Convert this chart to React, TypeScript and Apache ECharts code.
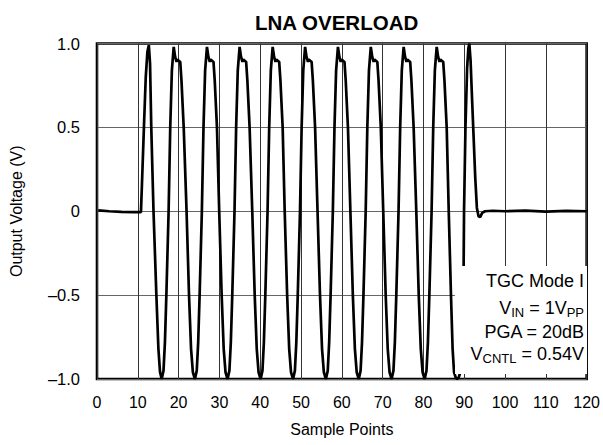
import React, { useEffect, useRef } from "react";
import * as echarts from "echarts";

const chartTitle = "LNA OVERLOAD";
const xAxisName = "Sample Points";
const yAxisName = "Output Voltage (V)";
const xTicks = [0, 10, 20, 30, 40, 50, 60, 70, 80, 90, 100, 110, 120];
const yTickLabels: Record<string, string> = {
  "1": "1.0",
  "0.5": "0.5",
  "0": "0",
  "-0.5": "\u20130.5",
  "-1": "\u20131.0",
};

// flat part before the burst
const leadIn: [number, number][] = [
  [0.3, 0.005], [3, 0.0], [6, -0.004], [9, -0.005], [10.77, -0.005],
];

// first cycle
const firstCycle: [number, number][] = [
  [11.0, 0.15], [11.5, 0.5], [11.95, 0.8], [12.35, 0.95], [12.7, 0.99],
  [13.0, 0.88], [13.3, 0.5], [13.85, 0.0], [14.55, -0.5], [15.05, -0.82],
  [15.45, -0.96], [15.85, -1.0],
];

// clipped burst cycles
const burst: [number, number][] = [
  [16.3, -0.95], [16.65, -0.78], [17.0, -0.5], [17.55, 0], [17.95, 0.5], [18.35, 0.84], [18.8, 0.98],
  [19.15, 0.92], [19.5, 0.89], [19.7, 0.905], [20.4, 0.89], [20.7, 0.78], [21.25, 0.5],
  [21.95, 0], [22.55, -0.5], [23.05, -0.82], [23.5, -0.96], [24.0, -1.0],

  [24.45, -0.95], [24.8, -0.78], [25.15, -0.5], [25.7, 0], [26.1, 0.5], [26.5, 0.84], [26.95, 0.98],
  [27.3, 0.92], [27.65, 0.89], [27.85, 0.905], [28.55, 0.89], [28.85, 0.78], [29.4, 0.5],
  [29.95, 0], [30.55, -0.5], [31.05, -0.82], [31.5, -0.96], [32.0, -1.0],

  [32.45, -0.95], [32.8, -0.78], [33.15, -0.5], [33.7, 0], [34.1, 0.5], [34.5, 0.84], [34.95, 0.98],
  [35.3, 0.92], [35.65, 0.89], [35.85, 0.905], [36.55, 0.89], [36.85, 0.78], [37.4, 0.5],
  [38.05, 0], [38.65, -0.5], [39.15, -0.82], [39.6, -0.96], [40.1, -1.0],

  [40.55, -0.95], [40.9, -0.78], [41.25, -0.5], [41.8, 0], [42.2, 0.5], [42.6, 0.84], [43.05, 0.98],
  [43.4, 0.92], [43.75, 0.89], [43.95, 0.905], [44.65, 0.89], [44.95, 0.78], [45.5, 0.5],
  [46.0, 0], [46.6, -0.5], [47.1, -0.82], [47.55, -0.96], [48.05, -1.0],

  [48.5, -0.95], [48.85, -0.78], [49.2, -0.5], [49.75, 0], [50.15, 0.5], [50.55, 0.84], [51.0, 0.98],
  [51.35, 0.92], [51.7, 0.89], [51.9, 0.905], [52.6, 0.89], [52.9, 0.78], [53.45, 0.5],
  [54.05, 0], [54.65, -0.5], [55.15, -0.82], [55.6, -0.96], [56.1, -1.0],

  [56.55, -0.95], [56.9, -0.78], [57.25, -0.5], [57.8, 0], [58.2, 0.5], [58.6, 0.84], [59.05, 0.98],
  [59.4, 0.92], [59.75, 0.89], [59.95, 0.905], [60.65, 0.89], [60.95, 0.78], [61.5, 0.5],
  [62.1, 0], [62.7, -0.5], [63.2, -0.82], [63.65, -0.96], [64.15, -1.0],

  [64.6, -0.95], [64.95, -0.78], [65.3, -0.5], [65.85, 0], [66.25, 0.5], [66.65, 0.84], [67.1, 0.98],
  [67.45, 0.92], [67.8, 0.89], [68.0, 0.905], [68.7, 0.89], [69.0, 0.78], [69.55, 0.5],
  [70.15, 0], [70.75, -0.5], [71.25, -0.82], [71.7, -0.96], [72.2, -1.0],

  [72.65, -0.95], [73.0, -0.78], [73.35, -0.5], [73.9, 0], [74.3, 0.5], [74.7, 0.84], [75.15, 0.98],
  [75.5, 0.92], [75.85, 0.89], [76.05, 0.905], [76.75, 0.89], [77.05, 0.78], [77.6, 0.5],
  [78.25, 0], [78.85, -0.5], [79.35, -0.82], [79.8, -0.96], [80.3, -1.0],

  [80.75, -0.95], [81.1, -0.78], [81.45, -0.5], [82.0, 0], [82.4, 0.5], [82.8, 0.84], [83.25, 0.98],
  [83.6, 0.92], [83.95, 0.89], [84.15, 0.905], [84.85, 0.89], [85.15, 0.78], [85.7, 0.5],
  [86.2, 0], [86.75, -0.5], [87.15, -0.82], [87.5, -0.96], [87.9, -0.99], [88.25, -1.0],
];

// last pulse and settling
const tail: [number, number][] = [
  [88.65, -0.99], [89.05, -0.96], [89.5, -0.65], [89.85, -0.33], [89.95, 0.0], [90.3, 0.5],
  [90.7, 0.85], [91.0, 0.97], [91.25, 1.0], [91.55, 0.9], [91.9, 0.68], [92.2, 0.5],
  [92.7, 0.2], [93.1, 0.02], [93.5, -0.03], [93.9, -0.035], [94.4, -0.01], [95.1, 0.0],
  [97, 0.003], [100, 0.0], [105, 0.004], [110, -0.002], [115, 0.002], [120, 0.0],
];

const noteLines = [
  "TGC Mode I",
  "V{sub|IN} = 1V{sub|PP}",
  "PGA = 20dB",
  "V{sub|CNTL} = 0.54V",
];

const FONT = "'Liberation Sans', Arial, Helvetica, sans-serif";

export default function App() {
  const ref = useRef<HTMLDivElement>(null);
  useEffect(() => {
    if (!ref.current) return;
    const chart = echarts.init(ref.current, undefined, { renderer: "svg" });
    const data = [...leadIn, ...firstCycle, ...burst, ...tail];
    const noteY = [281, 308, 332, 354];
    chart.setOption({
      animation: false,
      backgroundColor: "#fff",
      title: {
        text: chartTitle,
        left: 250,
        top: 7,
        textStyle: { fontFamily: FONT, fontSize: 20.5, fontWeight: "bold", color: "#000" },
      },
      grid: {
        left: 94.7,
        right: 13.5,
        top: 43.5,
        bottom: 66,
        show: true,
        borderColor: "#000",
        borderWidth: 2.6,
        backgroundColor: "transparent",
      },
      xAxis: {
        type: "value",
        min: xTicks[0],
        max: xTicks[xTicks.length - 1],
        interval: 10,
        name: xAxisName,
        nameLocation: "middle",
        nameGap: 42,
        nameTextStyle: { fontFamily: FONT, fontSize: 16, color: "#000" },
        axisLine: { show: false },
        axisTick: { show: false },
        axisLabel: { fontFamily: FONT, fontSize: 16, color: "#000", margin: 15 },
        splitLine: { show: true, lineStyle: { color: "#333", width: 1 } },
      },
      yAxis: {
        type: "value",
        min: -1,
        max: 1,
        interval: 0.5,
        name: yAxisName,
        nameLocation: "middle",
        nameGap: 73,
        nameRotate: 90,
        nameTextStyle: { fontFamily: FONT, fontSize: 16, color: "#000" },
        axisLine: { show: false },
        axisTick: { show: false },
        axisLabel: {
          fontFamily: FONT,
          fontSize: 16.5,
          color: "#000",
          margin: 17,
          formatter: (v: number) => yTickLabels[String(v)] ?? String(v),
        },
        splitLine: { show: true, lineStyle: { color: "#666", width: 1.2 } },
      },
      series: [
        {
          type: "line",
          data,
          showSymbol: false,
          symbol: "none",
          lineStyle: { color: "#000", width: 2.7 },
          z: 3,
        },
      ],
      graphic: [
        {
          type: "rect",
          z: 50,
          shape: { x: 455, y: 266, width: 132, height: 108 },
          style: { fill: "#fff", stroke: "none" },
        },
        ...noteLines.map((t, i) => ({
          type: "text",
          z: 60,
          x: 584,
          y: noteY[i],
          style: {
            text: t,
            fill: "#000",
            font: `18px ${FONT}`,
            fontSize: 18,
            fontFamily: FONT,
            lineHeight: 22,
            textAlign: "right",
            textVerticalAlign: "middle",
            rich: {
              sub: {
                fontSize: 13,
                fontFamily: FONT,
                lineHeight: 13,
                verticalAlign: "bottom",
                fill: "#000",
              },
            },
          },
        })),
      ],
    });
    return () => chart.dispose();
  }, []);
  return (
    <div
      ref={ref}
      style={{ position: "fixed", left: 0, top: 0, width: 603, height: 445 }}
    />
  );
}
